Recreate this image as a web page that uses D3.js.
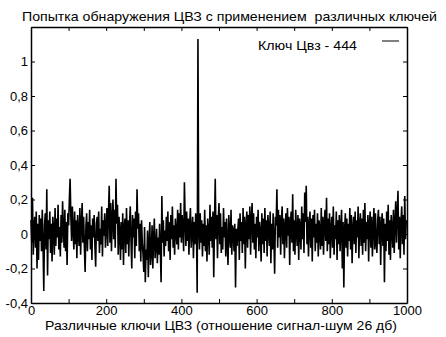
<!DOCTYPE html>
<html>
<head>
<meta charset="utf-8">
<script src="https://cdn.jsdelivr.net/npm/d3@7"></script>
<style>
  body { margin: 0; background: #fff; }
  text { font-family: "Liberation Sans", Arial, sans-serif; fill: #000; }
</style>
</head>
<body>
<div id="chart"></div>
<script>
// detector response for keys 0..998 (step 2), key 444 is the embedded one
var keyStep = 2;
var response = [
  .08,-.05,.21,-.12,.04,.10,-.08,.13,-.20,.06,
  -.15,.11,-.04,.09,-.10,.14,-.06,-.33,.05,.12,
  -.09,.26,-.24,.08,-.03,.13,-.11,.06,-.16,.10,
  .02,-.12,.15,-.07,.09,-.02,.17,-.09,.04,-.13,
  .11,-.05,.19,.03,-.08,.14,-.10,.07,-.18,.12,
  .05,.20,.32,.10,-.04,.16,.02,-.09,.13,-.06,
  .08,-.14,.11,.01,-.07,.15,-.12,.06,.18,-.05,
  .10,-.08,-.22,.04,.12,-.10,.07,-.03,.14,-.09,
  .05,-.15,.09,-.02,.11,-.07,-.19,.06,.10,-.04,
  .13,-.11,.03,-.06,.16,-.13,.08,-.01,.12,-.08,
  .04,.15,-.07,.11,.28,-.05,.18,-.10,.09,.20,
  -.03,.14,-.08,.32,.06,.17,-.12,.10,.02,-.15,
  .07,-.09,.12,-.18,.04,.09,-.11,.15,-.06,.08,
  -.13,.05,.16,-.04,-.20,.11,-.02,.09,-.14,.13,
  -.07,.26,.03,.12,-.10,.06,-.16,.08,-.05,-.12,
  -.22,.04,-.28,-.09,-.15,.02,-.25,-.06,.07,-.18,
  -.11,.05,-.20,-.03,.09,-.14,-.07,.03,-.17,-.02,
  -.12,.06,-.09,-.28,.22,-.05,.08,-.13,.02,-.07,
  .10,-.04,.13,-.10,.07,-.15,.11,-.03,.16,-.08,
  .05,-.12,.09,.01,-.06,.14,-.09,.12,-.02,.18,
  -.05,.11,.03,-.10,.30,.08,-.07,.13,-.04,.09,
  -.12,.06,.15,-.08,.02,.10,-.14,.07,-.06,.12,
  .04,-.34,1.13,.02,-.09,.12,-.05,.08,-.13,.06,
  -.07,.14,-.10,.05,-.16,.09,.01,-.12,.17,-.04,
  .10,-.08,.13,-.25,.06,.32,-.03,.11,-.14,.08,
  .18,-.06,.12,-.11,.04,-.09,.15,-.02,.07,-.13,
  .09,-.05,-.18,.11,.01,-.08,.14,-.12,.05,.02,
  -.10,.06,-.31,.03,-.07,.02,.09,-.15,.12,-.04,
  .07,-.11,.15,-.06,.10,-.20,.04,.13,-.08,.11,
  -.03,.16,-.12,.08,.18,-.05,.12,-.09,.06,-.14,
  .10,-.02,.14,-.10,.07,.01,-.16,.12,-.06,.09,
  -.11,.15,-.04,.08,-.13,.11,.03,-.07,.13,-.17,
  .06,-.09,.12,-.03,-.23,.10,.05,.26,-.08,.14,
  -.02,.11,-.12,.07,.16,-.06,.09,-.14,.04,.12,
  -.08,.15,-.01,.10,-.18,.06,.13,-.05,.23,-.10,
  .08,-.12,.14,.02,-.07,.11,-.15,.09,.04,-.09,
  .16,-.03,.12,-.11,.24,.07,.28,-.06,.10,-.13,
  .05,.13,-.08,.09,-.16,.11,-.02,.14,-.10,.06,
  -.05,.12,-.13,.08,.02,-.09,.15,-.07,.10,-.12,
  .06,.14,-.04,.21,-.10,.09,-.06,.12,-.14,.03,
  .10,-.08,.16,-.12,.05,-.03,.13,-.15,.08,-.06,
  .11,-.10,.04,.14,-.20,.07,-.31,.02,.12,-.08,
  .09,-.13,.06,-.04,.15,-.09,.11,-.17,.03,.10,
  -.06,.13,-.11,.08,-.02,.16,-.14,.05,.12,-.07,
  .09,-.12,.14,-.05,.18,-.10,.07,-.03,.11,-.16,
  .06,.13,-.08,.10,-.13,.04,.15,-.09,.12,-.05,
  -.11,.08,.14,-.06,.10,-.18,.05,.12,-.07,.09,
  -.28,.06,-.10,.13,-.04,.17,-.12,.08,-.15,.11,
  .03,-.08,.14,-.11,.06,.19,-.05,.12,.25,-.09,
  .10,-.14,.07,.16,-.06,.11,-.12,.22,-.03,.08
];
var xTicks = [0, 200, 400, 600, 800, 1000];
var yTicks = [-0.4, -0.2, 0, 0.2, 0.4, 0.6, 0.8, 1];
var titleText = "Попытка обнаружения ЦВЗ с применением  различных ключей";
var xLabel = "Различные ключи ЦВЗ (отношение сигнал-шум 26 дб)";
var legendText = "Ключ Цвз - 444";

var width = 446, height = 337;
var margin = { top: 27, right: 39, bottom: 34, left: 31 };

var svg = d3.select("#chart").append("svg")
  .attr("width", width)
  .attr("height", height);

var x = d3.scaleLinear().domain([0, 1000]).range([margin.left, width - margin.right]);
var y = d3.scaleLinear().domain([-0.4, 1.2]).range([height - margin.bottom, margin.top]);

var fmt = function (d) { return String(+d.toFixed(1)).replace(".", ","); };

// data line
var line = d3.line()
  .x(function (d, i) { return x(i * keyStep); })
  .y(function (d) { return y(d); });

svg.append("path")
  .datum(response)
  .attr("fill", "none")
  .attr("stroke", "#000")
  .attr("stroke-width", 1.6)
  .attr("stroke-linejoin", "miter")
  .attr("d", line);

// axes, ticks pointing inward
var minorX = d3.range(0, 1001, 100);
var allY = d3.range(-0.4, 1.21, 0.2);

svg.append("g")
  .attr("transform", "translate(0," + y(-0.4) + ")")
  .call(d3.axisBottom(x).tickValues(minorX).tickSizeInner(-4).tickSizeOuter(0)
    .tickFormat(function (d) { return xTicks.indexOf(d) >= 0 ? d : ""; }))
  .call(function (g) {
    g.selectAll("text").attr("y", 3).style("font-size", "13px");
  });

svg.append("g")
  .attr("transform", "translate(0," + y(1.2) + ")")
  .call(d3.axisTop(x).tickValues(minorX).tickSizeInner(-4).tickSizeOuter(0).tickFormat(""));

svg.append("g")
  .attr("transform", "translate(" + x(0) + ",0)")
  .call(d3.axisLeft(y).tickValues(allY).tickSizeInner(-4).tickSizeOuter(0)
    .tickFormat(function (d) { return yTicks.some(function (t) { return Math.abs(t - d) < 1e-6; }) ? fmt(d) : ""; }))
  .call(function (g) {
    g.selectAll("text").attr("x", -3).style("font-size", "13px");
  });

svg.append("g")
  .attr("transform", "translate(" + x(1000) + ",0)")
  .call(d3.axisRight(y).tickValues(allY).tickSizeInner(-4).tickSizeOuter(0).tickFormat(""));

svg.selectAll(".domain").attr("stroke", "#000").attr("stroke-width", 1.5);
svg.selectAll(".tick line").attr("stroke", "#000");
svg.selectAll(".tick text").attr("fill", "#000").style("font-family", "'Liberation Sans', Arial, sans-serif");

// title
svg.append("text")
  .attr("x", 22)
  .attr("y", 21)
  .attr("textLength", 415)
  .attr("lengthAdjust", "spacingAndGlyphs")
  .style("font-size", "13px")
  .style("white-space", "pre")
  .text(titleText);

// x label
svg.append("text")
  .attr("x", 45)
  .attr("y", 330)
  .attr("textLength", 352)
  .attr("lengthAdjust", "spacingAndGlyphs")
  .style("font-size", "13px")
  .text(xLabel);

// legend
svg.append("text")
  .attr("x", 258)
  .attr("y", 50)
  .attr("textLength", 99)
  .attr("lengthAdjust", "spacingAndGlyphs")
  .style("font-size", "13px")
  .text(legendText);

svg.append("line")
  .attr("x1", 382).attr("x2", 399)
  .attr("y1", 41).attr("y2", 41)
  .attr("stroke", "#000");
</script>
</body>
</html>
